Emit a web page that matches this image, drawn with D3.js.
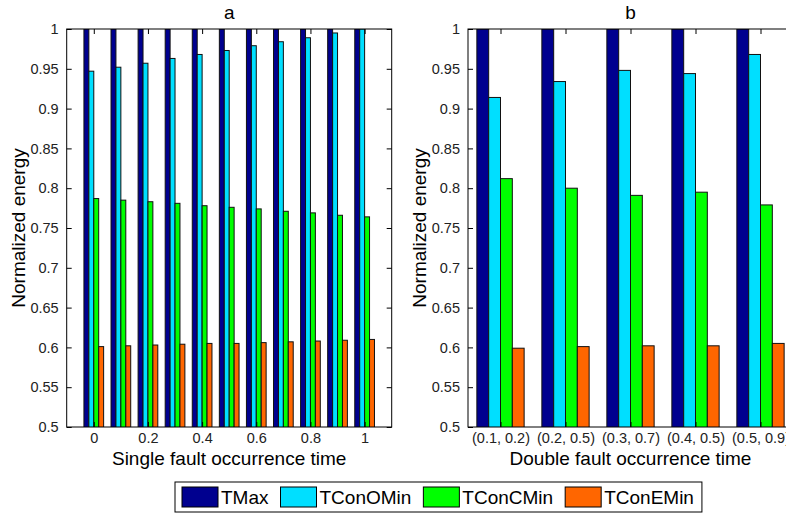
<!DOCTYPE html>
<html>
<head>
<meta charset="utf-8">
<script src="https://cdn.jsdelivr.net/npm/d3@7"></script>
<style>
  body { margin: 0; background: #fff; }
  text { font-family: "Liberation Sans", Arial, sans-serif; }
</style>
</head>
<body>
<div id="chart"></div>
<script>
// series names + colours (legend order)
const seriesNames = ["TMax", "TConOMin", "TConCMin", "TConEMin"];
const seriesColors = ["#00008F", "#00DFFF", "#00FF00", "#FF6600"];

// panel a: single fault occurrence time
const singleTimes = [0, 0.1, 0.2, 0.3, 0.4, 0.5, 0.6, 0.7, 0.8, 0.9, 1];
const singleTMax = [1, 1, 1, 1, 1, 1, 1, 1, 1, 1, 1];
const singleTConOMin = [0.947, 0.952, 0.957, 0.963, 0.968, 0.973, 0.979, 0.984, 0.989, 0.995, 1.0];
const singleTConCMin = [0.787, 0.785, 0.783, 0.781, 0.778, 0.776, 0.774, 0.771, 0.769, 0.766, 0.764];
const singleTConEMin = [0.601, 0.602, 0.603, 0.604, 0.605, 0.605, 0.606, 0.607, 0.608, 0.609, 0.610];
const singleTicks = [0, 0.2, 0.4, 0.6, 0.8, 1];

// panel b: double fault occurrence time
const doubleLabels = ["(0.1, 0.2)", "(0.2, 0.5)", "(0.3, 0.7)", "(0.4, 0.5)", "(0.5, 0.9)"];
const doubleTMax = [1, 1, 1, 1, 1];
const doubleTConOMin = [0.914, 0.934, 0.948, 0.944, 0.968];
const doubleTConCMin = [0.812, 0.800, 0.791, 0.795, 0.779];
const doubleTConEMin = [0.599, 0.601, 0.602, 0.602, 0.605];

const yTicks = [0.5, 0.55, 0.6, 0.65, 0.7, 0.75, 0.8, 0.85, 0.9, 0.95, 1];

const W = 786, H = 514;
const plotTop = 29, plotBottom = 427;
const tickLen = 5;

const svg = d3.select("#chart").append("svg")
    .attr("width", W)
    .attr("height", H);

// shared y scale
const y = d3.scaleLinear().domain([0.5, 1]).range([plotBottom, plotTop]);

// matlab style grouped bars: group width = n/(n+1.5)
const nSeries = seriesNames.length;
const groupFrac = nSeries / (nSeries + 1.5);

function drawPanel(opt) {
    const x = d3.scaleLinear().domain(opt.xDomain).range([opt.left, opt.right]);
    const g = svg.append("g");

    // clip so bars never go past the frame
    const clipId = "clip-" + opt.title;
    svg.append("clipPath").attr("id", clipId)
        .append("rect")
        .attr("x", opt.left).attr("y", plotTop)
        .attr("width", opt.right - opt.left).attr("height", plotBottom - plotTop);

    const bw = opt.step * groupFrac / nSeries;
    const inner = d3.scaleBand().domain(d3.range(nSeries))
        .range([-opt.step * groupFrac / 2, opt.step * groupFrac / 2]);

    const bars = g.append("g").attr("clip-path", "url(#" + clipId + ")");
    opt.series.forEach(function(vals, s) {
        bars.selectAll(null)
            .data(vals)
            .enter().append("rect")
            .attr("x", (d, i) => x(opt.xs[i] + inner(s)))
            .attr("width", x(opt.xs[0] + bw) - x(opt.xs[0]))
            .attr("y", d => y(d))
            .attr("height", d => y(0.5) - y(d) + 2)
            .attr("fill", seriesColors[s])
            .attr("stroke", "#111")
            .attr("stroke-width", 1);
    });

    // frame
    g.append("rect")
        .attr("x", opt.left).attr("y", plotTop)
        .attr("width", opt.right - opt.left).attr("height", plotBottom - plotTop)
        .attr("fill", "none").attr("stroke", "#000").attr("stroke-width", 1);

    // y axis (left) with ticks inward, plus mirrored ticks on right
    const yAxis = d3.axisLeft(y).tickValues(yTicks)
        .tickFormat(d3.format("~g"))
        .tickSizeInner(-tickLen).tickSizeOuter(0).tickPadding(8);
    const ya = g.append("g").attr("transform", `translate(${opt.left},0)`).call(yAxis);
    ya.select(".domain").remove();
    ya.selectAll("text").attr("font-size", "14.5px").attr("fill", "#222")
        .attr("font-family", "Liberation Sans, Arial, sans-serif");

    const yAxisR = d3.axisRight(y).tickValues(yTicks).tickFormat("")
        .tickSizeInner(-tickLen).tickSizeOuter(0);
    g.append("g").attr("transform", `translate(${opt.right},0)`).call(yAxisR)
        .select(".domain").remove();

    // x axis bottom + top ticks
    const xAxis = d3.axisBottom(x).tickValues(opt.tickVals)
        .tickFormat((d, i) => opt.tickLabels[i])
        .tickSizeInner(-tickLen).tickSizeOuter(0).tickPadding(6);
    const xa = g.append("g").attr("transform", `translate(0,${plotBottom})`).call(xAxis);
    xa.select(".domain").remove();
    xa.selectAll("text").attr("font-size", "14.5px").attr("fill", "#222")
        .attr("font-family", "Liberation Sans, Arial, sans-serif");

    const xAxisT = d3.axisTop(x).tickValues(opt.tickVals).tickFormat("")
        .tickSizeInner(-tickLen).tickSizeOuter(0);
    g.append("g").attr("transform", `translate(0,${plotTop})`).call(xAxisT)
        .select(".domain").remove();

    // title
    const cx = (opt.left + opt.right) / 2;
    g.append("text").attr("x", cx).attr("y", 19)
        .attr("text-anchor", "middle").attr("font-size", "19px")
        .text(opt.title);

    // x label
    g.append("text").attr("x", cx).attr("y", 465)
        .attr("text-anchor", "middle").attr("font-size", "19px")
        .text(opt.xLabel);

    // y label
    g.append("text")
        .attr("transform", `translate(${opt.yLabelX},${(plotTop + plotBottom) / 2}) rotate(-90)`)
        .attr("text-anchor", "middle").attr("font-size", "19px")
        .text("Normalized energy");
}

drawPanel({
    title: "a",
    left: 66.7, right: 391.7,
    xDomain: [-0.1, 1.1],
    step: 0.1,
    xs: singleTimes,
    series: [singleTMax, singleTConOMin, singleTConCMin, singleTConEMin],
    tickVals: singleTicks,
    tickLabels: singleTicks.map(d3.format("~g")),
    xLabel: "Single fault occurrence time",
    yLabelX: 25
});

drawPanel({
    title: "b",
    left: 468, right: 793,
    xDomain: [0.5, 5.5],
    step: 1,
    xs: d3.range(1, doubleLabels.length + 1),
    series: [doubleTMax, doubleTConOMin, doubleTConCMin, doubleTConEMin],
    tickVals: d3.range(1, doubleLabels.length + 1),
    tickLabels: doubleLabels,
    xLabel: "Double fault occurrence time",
    yLabelX: 426
});

// legend
const leg = svg.append("g");
const legBox = leg.append("rect")
    .attr("x", 175).attr("y", 482)
    .attr("width", 533).attr("height", 30)
    .attr("fill", "#fff").attr("stroke", "#000").attr("stroke-width", 1);

let lx = 182;
seriesNames.forEach(function(name, i) {
    leg.append("rect")
        .attr("x", lx).attr("y", 487)
        .attr("width", 36).attr("height", 20)
        .attr("fill", seriesColors[i]).attr("stroke", "#000").attr("stroke-width", 1);
    const t = leg.append("text")
        .attr("x", lx + 39).attr("y", 504)
        .attr("font-size", "19px")
        .text(name);
    lx += 39 + t.node().getComputedTextLength() + 12;
});
legBox.attr("width", lx - 12 + 8 - 175);
</script>
</body>
</html>
